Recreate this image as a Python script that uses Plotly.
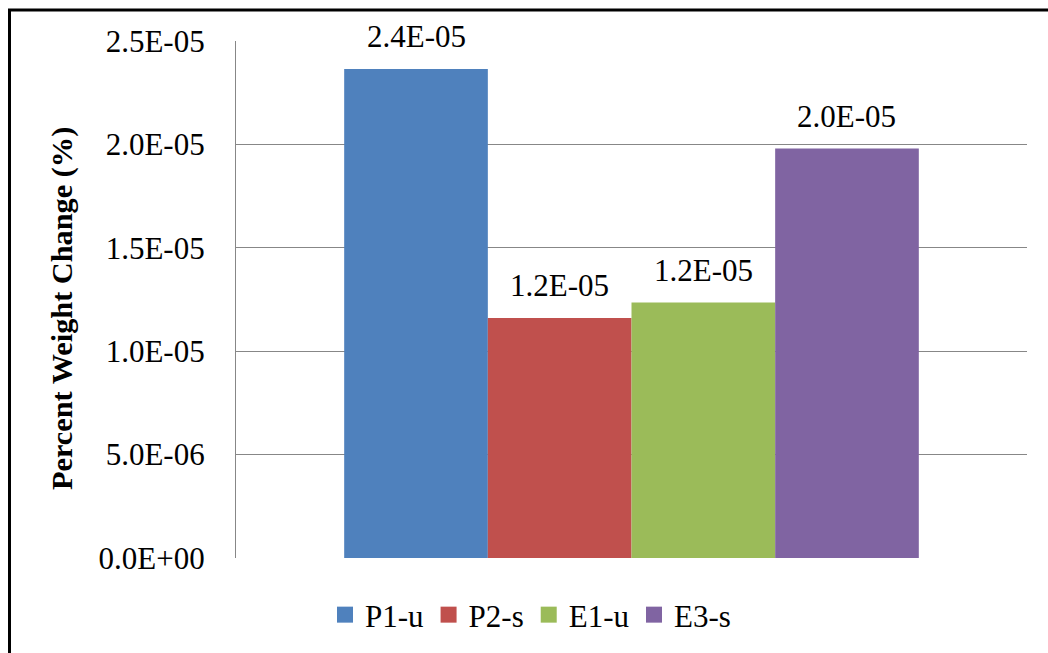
import plotly.graph_objects as go

# Specimen series and their percent weight change
series = ["P1-u", "P2-s", "E1-u", "E3-s"]
values = [2.365e-05, 1.16e-05, 1.235e-05, 1.98e-05]
colors = ["#4F81BD", "#C0504D", "#9BBB59", "#8064A2"]

# Y axis ticks
y_ticks = [0.0, 5.0e-06, 1.0e-05, 1.5e-05, 2.0e-05, 2.5e-05]
y_ticktext = [f"{v:.1E}" for v in y_ticks]
y_title = "Percent Weight Change (%)"

FONT = "Liberation Serif"

W, H = 1048, 653
ML, MR, MT, MB = 236, 21, 41, 95
PW, PH = W - ML - MR, H - MT - MB


def px_x(p):
    return (p - ML) / PW


def px_y(p):
    return (H - MB - p) / PH


fig = go.Figure()

# One adjacent bar per series
for i, (name, val, col) in enumerate(zip(series, values, colors)):
    fig.add_trace(go.Bar(
        x=[i], y=[val], width=1, name=name,
        marker=dict(color=col, line=dict(width=0)),
        showlegend=False, hoverinfo="skip",
    ))
    # Legend entry with a larger square swatch
    fig.add_trace(go.Scatter(
        x=[None], y=[None], mode="markers", name=name,
        marker=dict(symbol="square", size=16, color=col, line=dict(width=0)),
    ))
    fig.add_annotation(
        x=i, y=val, xref="x", yref="y", text=f"{val:.1E}",
        showarrow=False, yanchor="bottom", yshift=13,
        font=dict(family=FONT, size=31, color="black"),
    )

# Rotated y axis title
fig.add_annotation(
    x=px_x(62), y=px_y(309), xref="paper", yref="paper",
    text=f"<b>{y_title}</b>", textangle=-90, showarrow=False,
    xanchor="center", yanchor="middle",
    font=dict(family=FONT, size=30.3, color="black"),
)

# Outer chart border (continues past the right and bottom edges)
fig.add_shape(
    type="rect", xref="paper", yref="paper",
    x0=px_x(9.5), x1=px_x(W + 20), y0=px_y(H + 20), y1=px_y(10),
    line=dict(color="black", width=3), fillcolor="rgba(0,0,0,0)", layer="above",
)

fig.update_layout(
    width=W, height=H,
    margin=dict(l=ML, r=MR, t=MT, b=MB, autoexpand=False),
    paper_bgcolor="white", plot_bgcolor="white",
    barmode="overlay",
    font=dict(family=FONT, size=31, color="black"),
    showlegend=True,
    legend=dict(
        orientation="h", x=px_x(325), xanchor="left",
        y=px_y(615), yanchor="middle",
        font=dict(family=FONT, size=31, color="black"),
        bgcolor="rgba(0,0,0,0)", itemclick=False, itemdoubleclick=False,
    ),
    xaxis=dict(
        range=[-1.253, 4.253], showticklabels=False, showgrid=False,
        zeroline=False, showline=False, ticks="", fixedrange=True,
    ),
    yaxis=dict(
        range=[0, 2.5e-05], tickvals=y_ticks, ticktext=y_ticktext,
        showgrid=True, gridcolor="#878787", gridwidth=1.3,
        zeroline=False, showline=True, linecolor="#878787", linewidth=1.3,
        ticks="", ticklabelstandoff=24,
        tickfont=dict(family=FONT, size=31, color="black"),
        automargin=False, fixedrange=True,
    ),
)

fig.write_html("out.html")
